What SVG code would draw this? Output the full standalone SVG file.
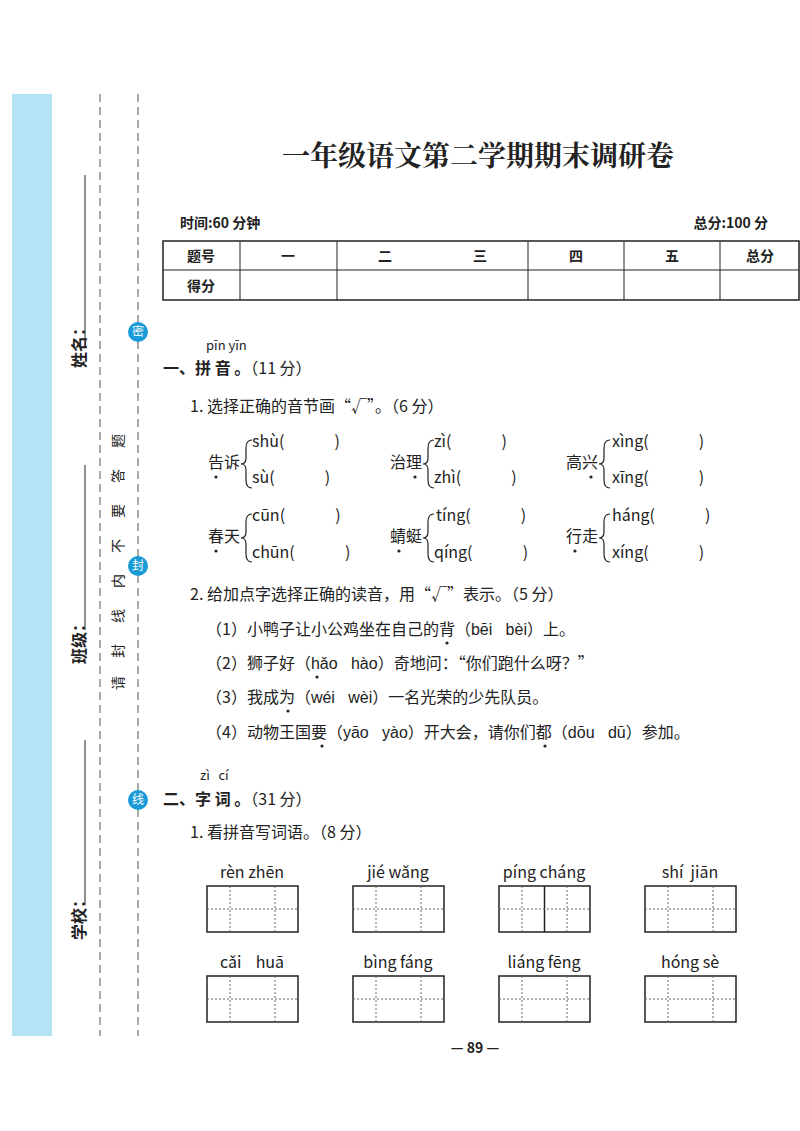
<svg xmlns="http://www.w3.org/2000/svg" width="800" height="1131" viewBox="0 0 800 1131">
<style>
text{font-family:"Noto Sans CJK SC","Noto Sans",sans-serif;fill:#222;white-space:pre}
.t{font-size:16px}
.p{font-family:"Liberation Sans","Noto Sans CJK SC",sans-serif;font-size:16px}
.s{font-size:14px}
.box{fill:none;stroke:#222;stroke-width:1.5}
.dot{stroke:#666;stroke-width:1;stroke-dasharray:2 2}
.br{fill:none;stroke:#222;stroke-width:1.2}
</style>
<rect width="800" height="1131" fill="#fff"/>
<g id="sidebar">
<rect x="12" y="94" width="40" height="942" fill="#b3e3f5"/>
<line x1="100" y1="94" x2="100" y2="1036" stroke="#555" stroke-dasharray="8 5"/>
<line x1="138" y1="94" x2="138" y2="1036" stroke="#555" stroke-dasharray="8 5"/>
<line x1="85" y1="175" x2="85" y2="340" stroke="#222"/>
<line x1="85" y1="465" x2="85" y2="630" stroke="#222"/>
<line x1="85" y1="740" x2="85" y2="905" stroke="#222"/>
<text class="t" font-weight="bold" transform="translate(85,368) rotate(-90)">姓名：</text>
<text class="t" font-weight="bold" transform="translate(85,664) rotate(-90)">班级：</text>
<text class="t" font-weight="bold" transform="translate(85,940) rotate(-90)">学校：</text>
<g font-size="14">
<text transform="translate(123,448) rotate(-90)">题</text>
<text transform="translate(123,483) rotate(-90)">答</text>
<text transform="translate(123,518) rotate(-90)">要</text>
<text transform="translate(123,553) rotate(-90)">不</text>
<text transform="translate(123,588) rotate(-90)">内</text>
<text transform="translate(123,623) rotate(-90)">线</text>
<text transform="translate(123,658) rotate(-90)">封</text>
<text transform="translate(123,690) rotate(-90)">请</text>
</g>
<g fill="#1a9ad6"><circle cx="138" cy="332" r="10"/><circle cx="138" cy="566" r="10"/><circle cx="138" cy="800" r="10"/></g>
<g font-size="12" text-anchor="middle"><text x="138" y="336" style="fill:#fff">密</text><text x="138" y="570" style="fill:#fff">封</text><text x="138" y="804" style="fill:#fff">线</text></g>
</g>
<text x="478" y="166" font-size="28" font-weight="bold" text-anchor="middle" style="font-family:'Noto Serif CJK SC','Noto Sans CJK SC',serif">一年级语文第二学期期末调研卷</text>
<text x="180" y="228" class="s" font-weight="bold">时间:60 分钟</text>
<text x="768" y="228" class="s" font-weight="bold" text-anchor="end">总分:100 分</text>
<g id="scoretable" fill="none" stroke="#222">
<rect x="163" y="241" width="636" height="59" stroke-width="1.5"/>
<line x1="163" y1="270" x2="799" y2="270"/>
<line x1="240" y1="241" x2="240" y2="300"/><line x1="337" y1="241" x2="337" y2="300"/>
<line x1="528" y1="241" x2="528" y2="300"/><line x1="624" y1="241" x2="624" y2="300"/><line x1="720" y1="241" x2="720" y2="300"/>
</g>
<g class="s" font-weight="bold" text-anchor="middle">
<text x="201" y="261">题号</text><text x="288" y="261">一</text><text x="385" y="261">二</text><text x="480" y="261">三</text><text x="576" y="261">四</text><text x="672" y="261">五</text><text x="760" y="261">总分</text>
<text x="201" y="291">得分</text>
</g>
<text x="206" y="350" font-family="Liberation Sans" font-size="13">pīn yīn</text>
<text x="163" y="374" class="t" font-weight="bold">一、拼 音 。<tspan font-weight="normal">（11 分）</tspan></text>
<text x="190" y="412" class="t">1. 选择正确的音节画“√”。（6 分）</text>
<g id="q1" class="p">
<text x="208" y="468" class="t">告诉</text><path class="br" d="M252 440 q-6 0 -6 8 v10 q0 6 -5 6 q5 0 5 6 v10 q0 8 6 8"/>
<text x="252" y="447">shù(              )</text><text x="252" y="483">sù(              )</text>
<text x="390" y="468" class="t">治理</text><path class="br" d="M434 440 q-6 0 -6 8 v10 q0 6 -5 6 q5 0 5 6 v10 q0 8 6 8"/>
<text x="434" y="447">zì(              )</text><text x="434" y="483">zhì(              )</text>
<text x="566" y="468" class="t">高兴</text><path class="br" d="M610 440 q-6 0 -6 8 v10 q0 6 -5 6 q5 0 5 6 v10 q0 8 6 8"/>
<text x="612" y="447">xìng(              )</text><text x="612" y="483">xīng(              )</text>
<text x="208" y="542" class="t">春天</text><path class="br" d="M252 514 q-6 0 -6 8 v10 q0 6 -5 6 q5 0 5 6 v10 q0 8 6 8"/>
<text x="252" y="521">cūn(              )</text><text x="252" y="558">chūn(              )</text>
<text x="390" y="542" class="t">蜻蜓</text><path class="br" d="M434 514 q-6 0 -6 8 v10 q0 6 -5 6 q5 0 5 6 v10 q0 8 6 8"/>
<text x="436" y="521">tíng(              )</text><text x="434" y="558">qíng(              )</text>
<text x="566" y="542" class="t">行走</text><path class="br" d="M610 514 q-6 0 -6 8 v10 q0 6 -5 6 q5 0 5 6 v10 q0 8 6 8"/>
<text x="612" y="521">háng(              )</text><text x="612" y="558">xíng(              )</text>
</g>
<g fill="#222"><circle cx="216" cy="477" r="1.6"/><circle cx="415" cy="477" r="1.6"/><circle cx="591" cy="477" r="1.6"/><circle cx="216" cy="551" r="1.6"/><circle cx="399" cy="551" r="1.6"/><circle cx="575" cy="551" r="1.6"/>
<circle cx="447" cy="643" r="1.6"/><circle cx="317" cy="677" r="1.6"/><circle cx="288" cy="711" r="1.6"/><circle cx="322" cy="746" r="1.6"/><circle cx="545" cy="746" r="1.6"/></g>
<text x="190" y="600" class="t">2. 给加点字选择正确的读音，用“√”表示。（5 分）</text>
<g class="t">
<text x="206" y="635">（1）小鸭子让小公鸡坐在自己的背（<tspan class="p">bēi   bèi</tspan>）上。</text>
<text x="206" y="669">（2）狮子好（<tspan class="p">hǎo   hào</tspan>）奇地问：“你们跑什么呀？”</text>
<text x="206" y="703">（3）我成为（<tspan class="p">wéi   wèi</tspan>）一名光荣的少先队员。</text>
<text x="206" y="738">（4）动物王国要（<tspan class="p">yāo   yào</tspan>）开大会，请你们都（<tspan class="p">dōu   dū</tspan>）参加。</text>
</g>
<text x="200" y="780" font-family="Liberation Sans" font-size="13">zì   cí</text>
<text x="163" y="805" class="t" font-weight="bold">二、字 词 。<tspan font-weight="normal">（31 分）</tspan></text>
<text x="190" y="838" class="t">1. 看拼音写词语。（8 分）</text>
<g id="words" class="p" text-anchor="middle">
<text x="252" y="878">rèn zhēn</text><text x="398" y="878">jié wǎng</text><text x="544" y="878">píng cháng</text><text x="690" y="878">shí  jiān</text>
<text x="252" y="968">cǎi    huā</text><text x="398" y="968">bìng fáng</text><text x="544" y="968">liáng fēng</text><text x="690" y="968">hóng sè</text>
</g>
<g id="boxes">
<g><rect class="box" x="207" y="886" width="91" height="46"/><line class="dot" x1="230" y1="886" x2="230" y2="932"/><line class="dot" x1="275" y1="886" x2="275" y2="932"/><line class="dot" x1="207" y1="909" x2="298" y2="909"/></g>
<g><rect class="box" x="353" y="886" width="91" height="46"/><line class="dot" x1="376" y1="886" x2="376" y2="932"/><line class="dot" x1="421" y1="886" x2="421" y2="932"/><line class="dot" x1="353" y1="909" x2="444" y2="909"/></g>
<g><rect class="box" x="499" y="886" width="91" height="46"/><line x1="544.5" y1="886" x2="544.5" y2="932" stroke="#222" stroke-width="1.5"/><line class="dot" x1="522" y1="886" x2="522" y2="932"/><line class="dot" x1="567" y1="886" x2="567" y2="932"/><line class="dot" x1="499" y1="909" x2="590" y2="909"/></g>
<g><rect class="box" x="645" y="886" width="91" height="46"/><line class="dot" x1="668" y1="886" x2="668" y2="932"/><line class="dot" x1="713" y1="886" x2="713" y2="932"/><line class="dot" x1="645" y1="909" x2="736" y2="909"/></g>
<g><rect class="box" x="207" y="976" width="91" height="46"/><line class="dot" x1="230" y1="976" x2="230" y2="1022"/><line class="dot" x1="275" y1="976" x2="275" y2="1022"/><line class="dot" x1="207" y1="999" x2="298" y2="999"/></g>
<g><rect class="box" x="353" y="976" width="91" height="46"/><line class="dot" x1="376" y1="976" x2="376" y2="1022"/><line class="dot" x1="421" y1="976" x2="421" y2="1022"/><line class="dot" x1="353" y1="999" x2="444" y2="999"/></g>
<g><rect class="box" x="499" y="976" width="91" height="46"/><line class="dot" x1="522" y1="976" x2="522" y2="1022"/><line class="dot" x1="567" y1="976" x2="567" y2="1022"/><line class="dot" x1="499" y1="999" x2="590" y2="999"/></g>
<g><rect class="box" x="645" y="976" width="91" height="46"/><line class="dot" x1="668" y1="976" x2="668" y2="1022"/><line class="dot" x1="713" y1="976" x2="713" y2="1022"/><line class="dot" x1="645" y1="999" x2="736" y2="999"/></g>
</g>
<text x="475" y="1053" font-family="Liberation Sans" font-size="14" font-weight="bold" text-anchor="middle">— 89 —</text>
</svg>
